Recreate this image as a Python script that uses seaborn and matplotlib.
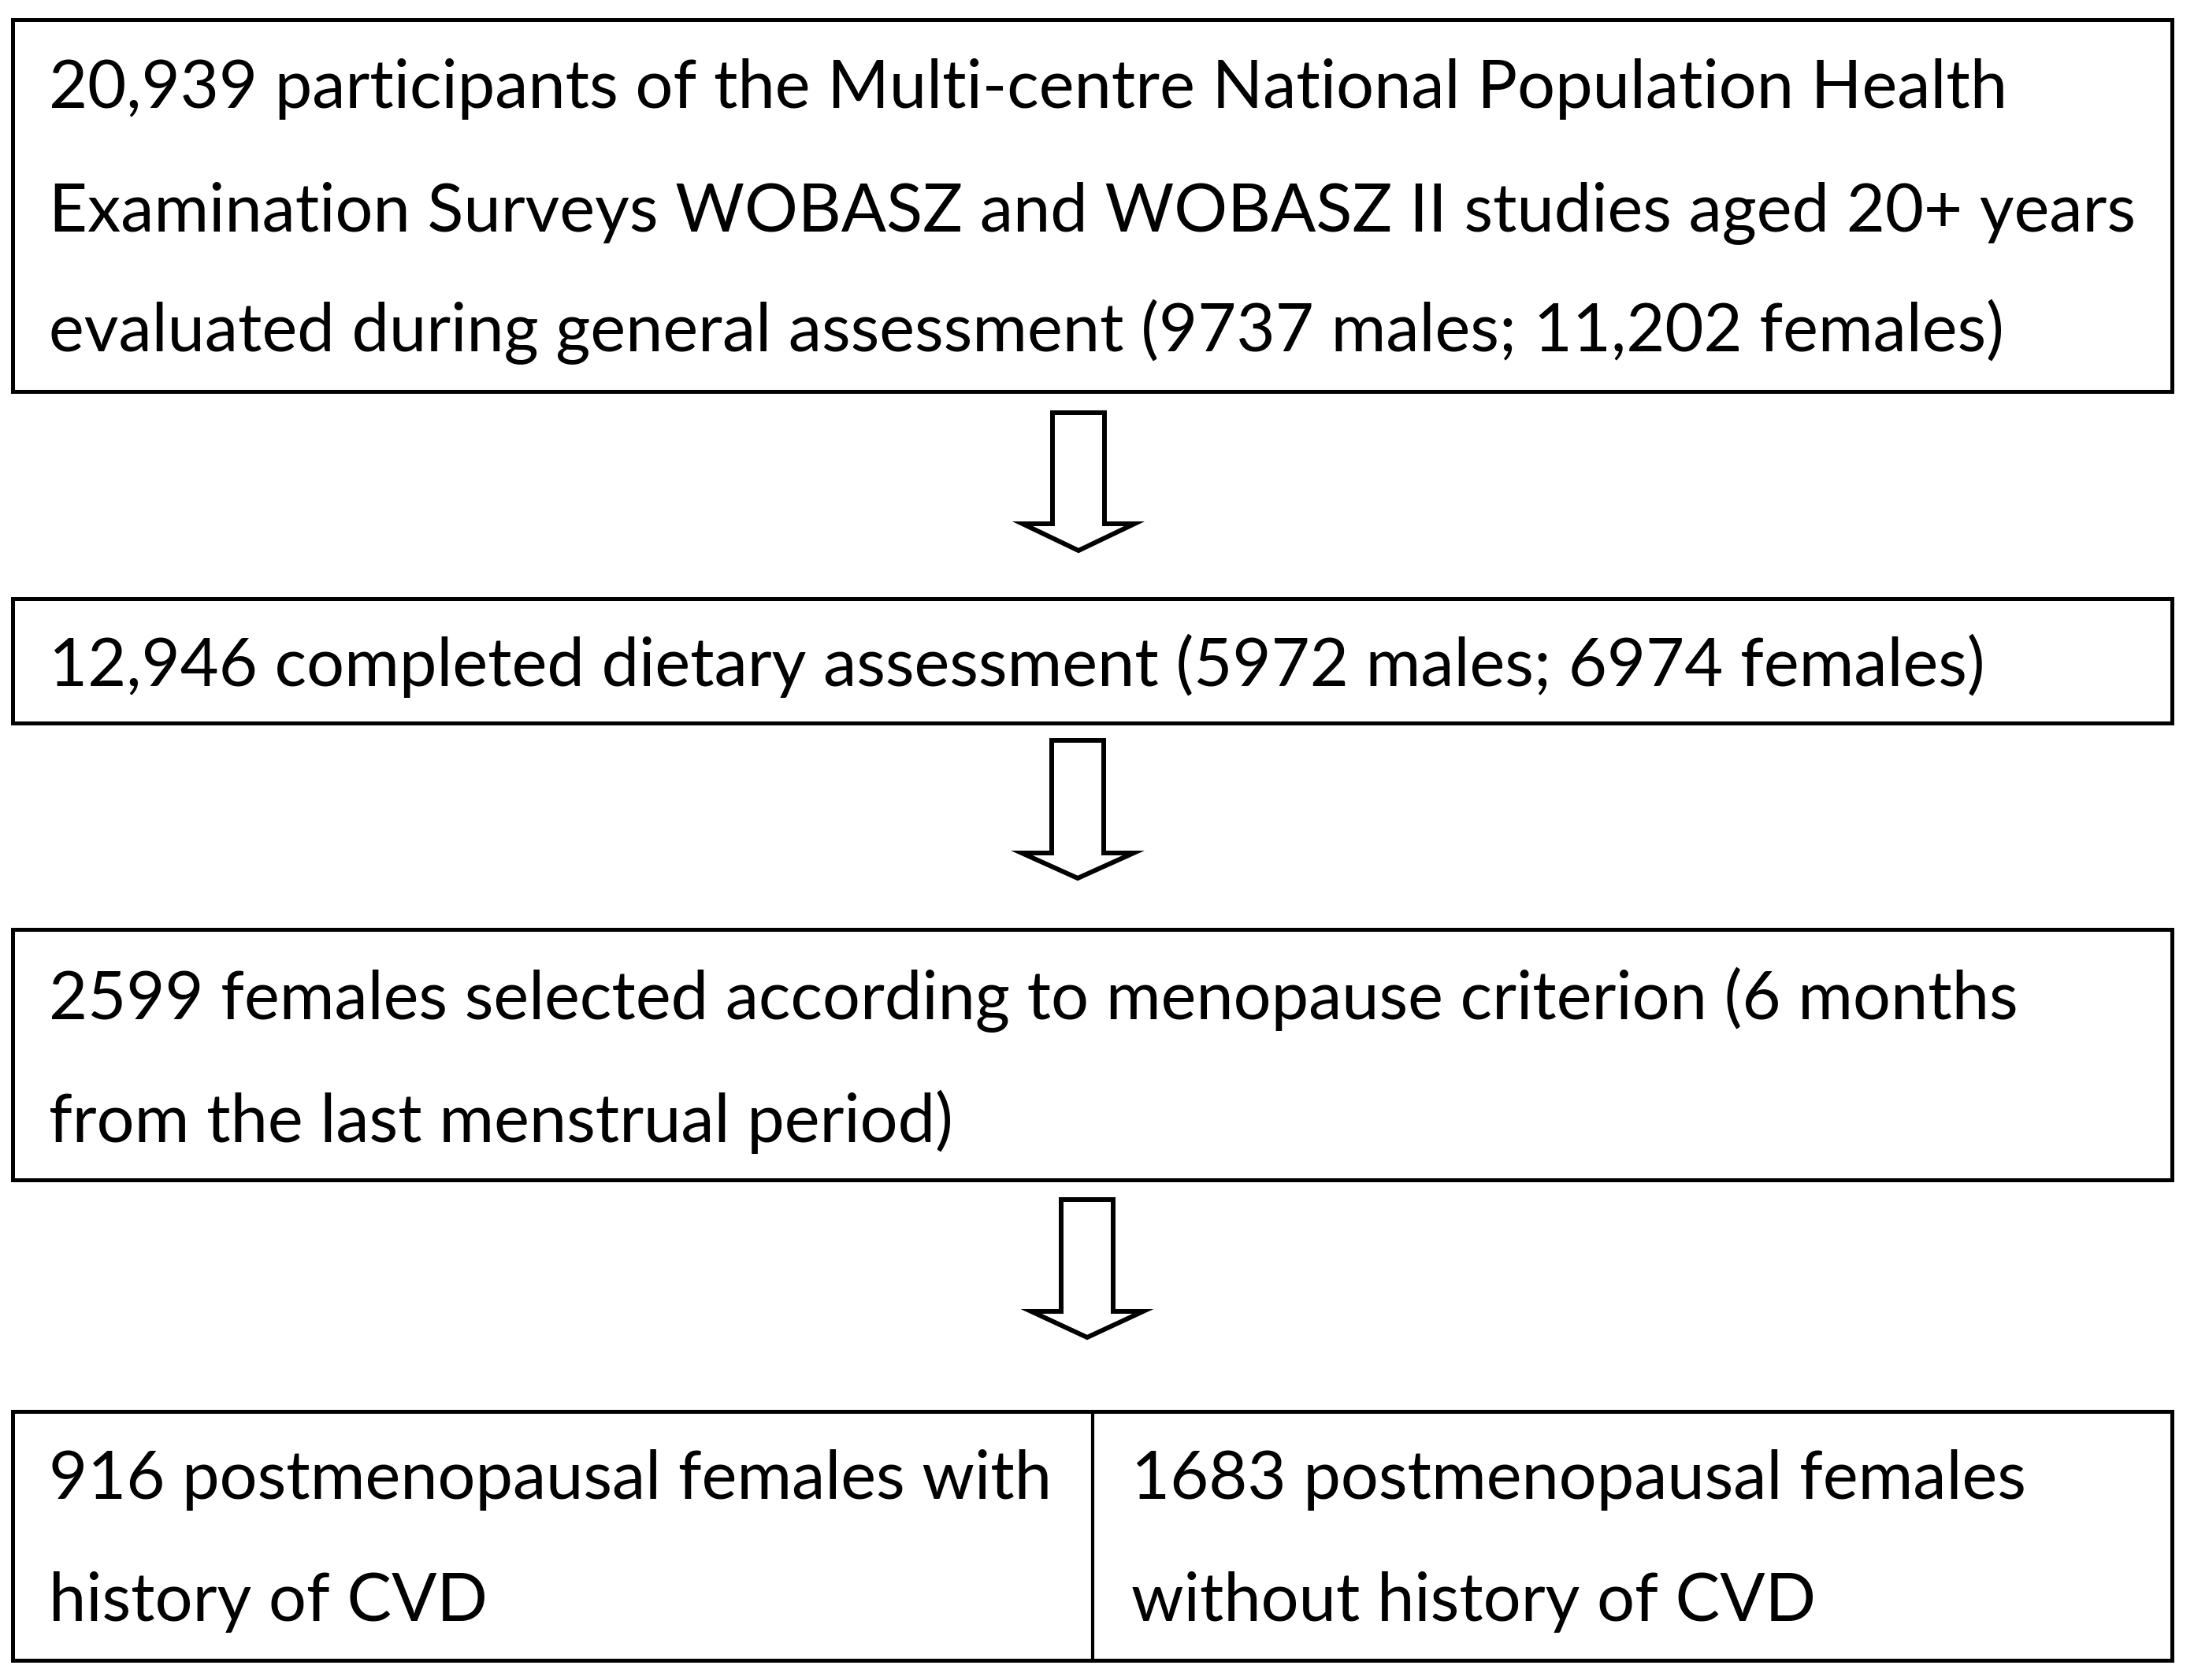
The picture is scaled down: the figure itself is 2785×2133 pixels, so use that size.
import matplotlib
matplotlib.use("Agg")
import matplotlib.pyplot as plt
from matplotlib.patches import Rectangle, Polygon
import seaborn as sns

# ---- content ----
box1_lines = [
    "20,939 participants of the Multi-centre National Population Health",
    "Examination Surveys WOBASZ and WOBASZ II studies aged 20+ years",
    "evaluated during general assessment (9737 males; 11,202 females)",
]
box2_lines = ["12,946 completed dietary assessment (5972 males; 6974 females)"]
box3_lines = [
    "2599 females selected according to menopause criterion (6 months",
    "from the last menstrual period)",
]
box4_left_lines = ["916 postmenopausal females with", "history of CVD"]
box4_right_lines = ["1683 postmenopausal females", "without history of CVD"]

# ---- layout (pixel coordinates) ----
W, H = 2785, 2133
sns.set_theme(style="white")
plt.rcParams["font.family"] = ["Lato", "DejaVu Sans"]

fig = plt.figure(figsize=(W / 100, H / 100), dpi=100)
ax = fig.add_axes([0, 0, 1, 1])
ax.set_xlim(0, W)
ax.set_ylim(H, 0)
ax.axis("off")

LW = 3.6
x0, x1 = 16, 2757
boxes = [(25, 497), (760, 918), (1180, 1498), (1792, 2108)]
for (ya, yb) in boxes:
    ax.add_patch(Rectangle((x0, ya), x1 - x0, yb - ya, fill=False,
                           edgecolor="black", linewidth=LW, joinstyle="miter"))
ax.plot([1387, 1387], [1792, 2108], color="black", linewidth=3.0,
        solid_capstyle="butt")

# arrows: (center x, shaft top, head base, tip)
arrows = [(1369, 524, 665, 699), (1368, 940, 1083, 1115), (1380, 1523, 1665, 1698)]
for cx, yt, yb, ytip in arrows:
    sw, hw = 33, 71
    pts = [(cx - sw, yt), (cx + sw, yt), (cx + sw, yb), (cx + hw, yb),
           (cx, ytip), (cx - hw, yb), (cx - sw, yb)]
    ax.add_patch(Polygon(pts, closed=True, fill=True, facecolor="white",
                         edgecolor="black", linewidth=4.3, joinstyle="miter"))

# font size fitted to the reference line width
fig.canvas.draw()
renderer = fig.canvas.get_renderer()
probe = ax.text(62, 137, box1_lines[0], fontsize=60, va="baseline")
wpx = probe.get_window_extent(renderer).width
probe.remove()
fs = 60 * (2549 - 62) / wpx

def put(lines, x, baselines):
    for s, yb in zip(lines, baselines):
        ax.text(x, yb, s, fontsize=fs, va="baseline", ha="left", color="black")

put(box1_lines, 62, [137, 293, 446])
put(box2_lines, 62, [871])
put(box3_lines, 62, [1294, 1450])
put(box4_left_lines, 62, [1903, 2058])
put(box4_right_lines, 1436, [1903, 2058])

fig.savefig("out.png", dpi=100, facecolor="white")
